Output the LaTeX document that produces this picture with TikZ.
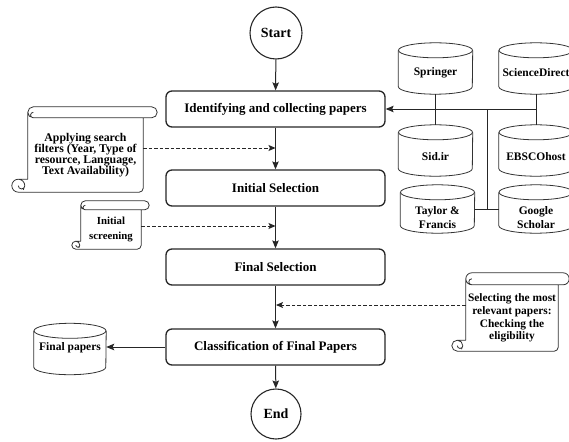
\documentclass[tikz,border=0pt]{standalone}
\usepackage{fontspec}
\setmainfont{Liberation Serif}
\usetikzlibrary{arrows.meta,calc}
% cylinder outline around a rectangle node: name, x radius, y radius
\newcommand\dbcyl[3]{%
  \draw[dbline] ([yshift=-#3]#1.north west) -- ([yshift=#3]#1.south west)
    arc[start angle=180,end angle=360,x radius=#2,y radius=#3]
    -- ([yshift=-#3]#1.north east);
  \draw[dbline] ([yshift=-#3]#1.north) ellipse[x radius=#2,y radius=#3];}
% scroll outline around the body node: name, roll height, roll extension, curl radius, curl offset
\newcommand\scrollshape[5]{%
  \draw[noteline] let \p1=(#1.north west), \p2=(#1.south east) in
    ({\x1+#2/2},{\y1+#2}) -- ({\x2+#3-#2/2},{\y1+#2})
      arc[start angle=90,end angle=-90,radius=#2/2]
      -- ({\x1+#2/2},{\y1}) arc[start angle=270,end angle=90,radius=#2/2] -- cycle
    ({\x1+#2/2},{\y1}) arc[start angle=270,end angle=90,radius=#2/4]
    ({\x1},{\y1+#2/2}) -- ({\x1},{\y2+2*#4}) -- ({\x1-#5},{\y2+2*#4})
    ({\x2},{\y1}) -- ({\x2},{\y2+4pt}) arc[start angle=0,end angle=-90,radius=4pt]
      -- ({\x1-#5},{\y2}) arc[start angle=270,end angle=-40,radius=#4]
    ({\x1-#5},{\y2+#4}) arc[start angle=180,end angle=360,radius=#4/2];}
\begin{document}
\begin{tikzpicture}[x=1pt,y=-1pt,
  proc/.style={draw=black!85, line width=1.3pt, rounded corners=6pt,
    minimum width=219pt, minimum height=36pt, inner sep=0pt,
    font=\fontsize{13}{15}\selectfont\bfseries},
  term/.style={draw=black!85, circle, line width=1.1pt, inner sep=0pt,
    font=\fontsize{14}{16}\selectfont\bfseries},
  dbbox/.style={minimum width=74pt, inner sep=0pt},
  dbtext/.style={align=center, inner sep=0pt, font=\fontsize{11.5}{14}\selectfont\bfseries},
  dbline/.style={draw=black!80, line width=0.8pt},
  noteline/.style={draw=black!80, line width=0.8pt, line join=round},
  notebody/.style={inner sep=0pt, align=center},
  link/.style={draw=black!85, line width=1pt},
  arr/.style={link, -{Stealth[length=8pt,width=6.5pt,inset=1.5pt]}},
  darr/.style={draw=black!85, line width=0.9pt, dash pattern=on 3.5pt off 2pt,
    -{Stealth[length=7pt,width=6pt,inset=1.5pt]}},
]
\useasboundingbox (0,0) rectangle (569,441);

% main flow
\node[term, minimum size=52pt] (start) at (276,33) {Start};
\node[proc] (idf) at (275.5,109) {Identifying and collecting papers};
\node[proc] (ini) at (275.5,188) {Initial Selection};
\node[proc] (fin) at (275.5,267) {Final Selection};
\node[proc] (cls) at (275.5,347) {Classification of Final Papers};
\node[term, minimum size=50pt] (end) at (276,414) {End};

\draw[arr] (start) -- (idf);
\draw[arr] (idf) -- (ini);
\draw[arr] (ini) -- (fin);
\draw[arr] (fin) -- (cls);
\draw[arr] (cls) -- (end);

% databases
\node[dbbox, minimum height=51pt] (spr) at (435.5,68.5) {};
\node[dbbox, minimum height=51pt] (sd) at (536,68.5) {};
\node[dbbox, minimum height=51pt] (sid) at (435.5,150.5) {};
\node[dbbox, minimum height=51pt] (ebs) at (536,150.5) {};
\node[dbbox, minimum height=48pt] (tf) at (437.5,209) {};
\node[dbbox, minimum height=48pt] (gs) at (536,209) {};
\node[dbbox, minimum width=72pt, minimum height=51pt] (fp) at (70,349) {};
\dbcyl{spr}{37pt}{7.5pt}
\dbcyl{sd}{37pt}{7.5pt}
\dbcyl{sid}{37pt}{7.5pt}
\dbcyl{ebs}{37pt}{7.5pt}
\dbcyl{tf}{37pt}{7.5pt}
\dbcyl{gs}{37pt}{7.5pt}
\dbcyl{fp}{36pt}{7.5pt}
\node[dbtext] (sprt) at ([yshift=-4pt]spr.center) {Springer};
\node[dbtext] (sdt) at ([yshift=-4pt]sd.center) {ScienceDirect};
\node[dbtext] (sidt) at ([yshift=-6pt]sid.center) {Sid.ir};
\node[dbtext] (ebst) at ([yshift=-6pt]ebs.center) {EBSCOhost};
\node[dbtext] (tft) at ([yshift=-9pt]tf.center) {Taylor \&\\Francis};
\node[dbtext] (gst) at ([yshift=-9pt]gs.center) {Google\\Scholar};
\node[dbtext] (fpt) at ([yshift=1pt]fp.center) {Final papers};

\coordinate (j1) at (sd.south |- idf.east);
\coordinate (j2) at (487,109);
\draw[link] (spr.south) -- (sid.north);
\draw[link] (sd.south) -- (ebs.north);
\draw[arr] (j1) -- (idf.east);
\draw[link] (j2) -- (j2 |- tf.east);
\draw[link] (tf.east) -- (gs.west);
\draw[arr] (cls.west) -- (cls.west -| fp.east);

% notes
\node[notebody, minimum width=115pt, minimum height=74pt,
  font=\fontsize{11.8}{11.2}\selectfont\bfseries] (n1) at (85.5,155)
  {Applying search\\filters (Year, Type of\\resource, Language,\\Text Availability)};
\node[notebody, minimum width=60pt, minimum height=39pt,
  font=\fontsize{10.8}{15}\selectfont\bfseries] (n2) at (111,229.5)
  {Initial\\screening};
\node[notebody, minimum width=92pt, minimum height=66pt,
  font=\fontsize{11.4}{12.8}\selectfont\bfseries] (n3) at (512,318)
  {Selecting the most\\relevant papers:\\Checking the\\eligibility};
\scrollshape{n1}{11pt}{14pt}{6.5pt}{9.5pt}
\scrollshape{n2}{9pt}{8pt}{4pt}{5pt}
\scrollshape{n3}{12pt}{11pt}{5.5pt}{8.5pt}

\coordinate (d1) at (275.5,148);
\coordinate (d2) at (275.5,226);
\coordinate (d3) at (276,305);
\draw[darr] (n1.east |- d1) -- (d1);
\draw[darr] (n2.east |- d2) -- (d2);
\draw[darr] (n3.west |- d3) -- (d3);
\end{tikzpicture}
\end{document}
